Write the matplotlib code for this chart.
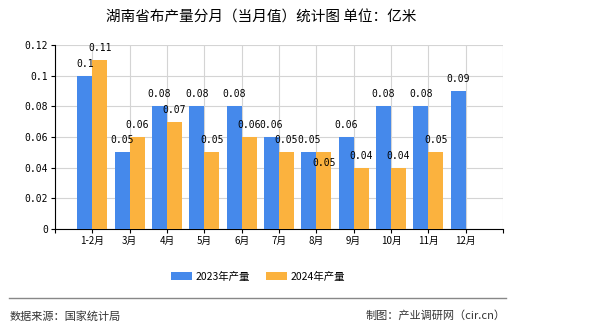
import matplotlib
matplotlib.use("Agg")
import matplotlib.pyplot as plt
import numpy as np

plt.rcParams['font.family'] = ['Noto Sans CJK SC', 'DejaVu Sans']

categories = ["1-2月", "3月", "4月", "5月", "6月", "7月", "8月", "9月", "10月", "11月", "12月"]
prod_2023 = [0.10, 0.05, 0.08, 0.08, 0.08, 0.06, 0.05, 0.06, 0.08, 0.08, 0.09]
prod_2024 = [0.11, 0.06, 0.07, 0.05, 0.06, 0.05, 0.05, 0.04, 0.04, 0.05, None]
yticks = [0, 0.02, 0.04, 0.06, 0.08, 0.1, 0.12]
ytick_labels = ["0", "0.02", "0.04", "0.06", "0.08", "0.1", "0.12"]

c23 = "#4589EB"
c24 = "#FBB23E"

fig = plt.figure(figsize=(5.9, 3.3), dpi=100)
ax = fig.add_axes([55/590, 1-229/330, (503-55)/590, (229-45)/330])

x = np.arange(len(categories))
w = 0.4
v23 = np.array(prod_2023, dtype=float)
v24 = np.array([np.nan if v is None else v for v in prod_2024], dtype=float)
ax.bar(x - w/2, v23, w, color=c23, zorder=3, label="2023年产量")
m = ~np.isnan(v24)
ax.bar(x[m] + w/2, v24[m], w, color=c24, zorder=3, label="2024年产量")

lab_font = dict(family='DejaVu Sans Mono', fontsize=7, color='black')
def fmt(v):
    s = ("%.2f" % v).rstrip('0').rstrip('.')
    return s
for i, v in enumerate(v23):
    ax.annotate(fmt(v), (x[i] - w/2, v), xytext=(0, 5), textcoords='offset points',
                ha='center', va='bottom', zorder=5, **lab_font)
for i, v in enumerate(v24):
    if np.isnan(v):
        continue
    dy = 5
    if i == 6:
        dy = -11
    ax.annotate(fmt(v), (x[i] + w/2, v), xytext=(0, dy), textcoords='offset points',
                ha='center', va='bottom', zorder=5, **lab_font)

ax.set_xlim(-1, 11)
ax.set_ylim(0, 0.12)
ax.set_yticks(yticks)
ax.set_yticklabels(ytick_labels, family='DejaVu Sans Mono', fontsize=7)
ax.set_xticks(np.arange(-1, 12))
ax.set_xticklabels([""] + categories + [""], fontsize=7)
ax.grid(True, color="#d4d4d4", linewidth=0.8, zorder=0)
for s in ["top", "right"]:
    ax.spines[s].set_visible(False)
ax.spines["left"].set_color("black")
ax.spines["bottom"].set_color("black")
ax.spines["left"].set_linewidth(0.8)
ax.spines["bottom"].set_linewidth(0.8)
ax.tick_params(axis='both', length=3, width=0.8, pad=2, colors='black')

fig.text(261/590, 1-18/330, "湖南省布产量分月（当月值）统计图 单位：亿米", ha='center', va='center', fontsize=10.5)

fig.legend(loc='center', bbox_to_anchor=(258/590, 1-277/330), ncol=2, frameon=False,
           fontsize=7.5, handlelength=2.0, handleheight=0.8, columnspacing=1.6, handletextpad=0.3)

fig.add_artist(plt.Line2D([9/590, 506/590], [1-298/330, 1-298/330], color="#888888", linewidth=1.0))
fig.text(10/590, 1-316/330, "数据来源：国家统计局", ha='left', va='center', fontsize=8, color="#333333")
fig.text(506/590, 1-316/330, "制图：产业调研网（cir.cn）", ha='right', va='center', fontsize=8, color="#333333")

fig.savefig("out.png", dpi=100)
